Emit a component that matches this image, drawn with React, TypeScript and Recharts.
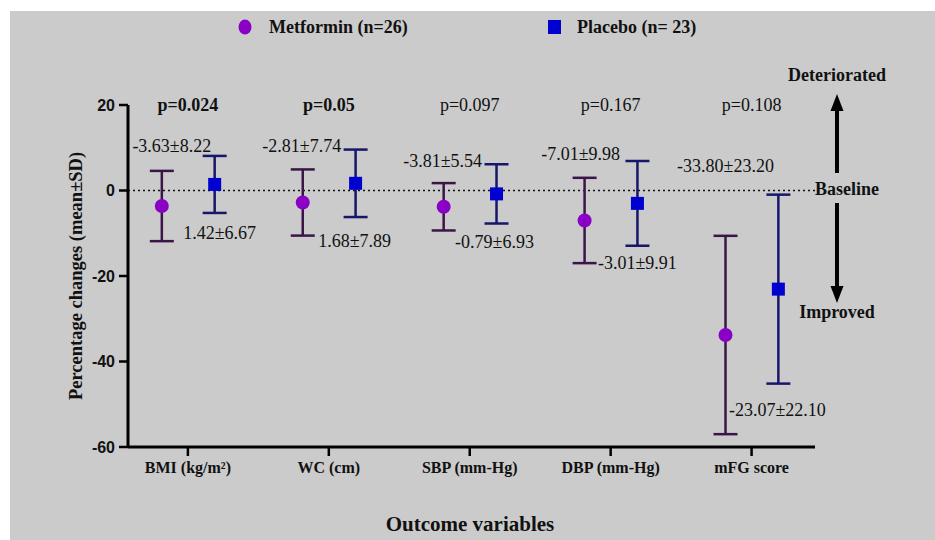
import React from "react";
import {
  ScatterChart,
  Scatter,
  XAxis,
  YAxis,
  ErrorBar,
  ReferenceLine,
} from "recharts";

const categories = ["BMI (kg/m²)", "WC (cm)", "SBP (mm-Hg)", "DBP (mm-Hg)", "mFG score"];
const metforminMean = [-3.63, -2.81, -3.81, -7.01, -33.8];
const metforminSd = [8.22, 7.74, 5.54, 9.98, 23.2];
const placeboMean = [1.42, 1.68, -0.79, -3.01, -23.07];
const placeboSd = [6.67, 7.89, 6.93, 9.91, 22.1];
const pValues = ["p=0.024", "p=0.05", "p=0.097", "p=0.167", "p=0.108"];
const pBold = [true, true, false, false, false];
const yTicks = [-60, -40, -20, 0, 20];

const SERIF = "'Liberation Serif', 'Times New Roman', serif";
const SANS = "'Liberation Sans', Arial, sans-serif";
const MET_FILL = "#8a00c4";
const MET_BAR = "#3a1648";
const PLA_FILL = "#0000d0";
const PLA_BAR = "#16166a";

// pixel offsets of the "mean±SD" texts from each marker (layout only)
const metLabelShift = [[10, -60], [-1, -57], [-1, -46], [-4, -66], [0, -169]];
const plaLabelShift = [[5, 49], [-1, 58], [-2, 48], [0, 60], [-1, 121]];

const metData = metforminMean.map((m, i) => ({ x: i + 1 - 0.185, y: m, sd: metforminSd[i], idx: i }));
const plaData = placeboMean.map((m, i) => ({ x: i + 1 + 0.19, y: m, sd: placeboSd[i], idx: i }));
const pData = pValues.map((p, i) => ({ x: i + 1, y: 20, idx: i }));

const fmt = (v: number) => v.toFixed(2);

function MetShape(props: any) {
  const { cx, cy, payload } = props;
  const [dx, dy] = metLabelShift[payload.idx];
  return (
    <g>
      <circle cx={cx} cy={cy} r={7} fill={MET_FILL} />
      <text x={cx + dx} y={cy + dy} textAnchor="middle" dominantBaseline="central"
        fontFamily={SERIF} fontSize={18} fill="#111">
        {`${fmt(payload.y)}±${fmt(payload.sd)}`}
      </text>
    </g>
  );
}

function PlaShape(props: any) {
  const { cx, cy, payload } = props;
  const [dx, dy] = plaLabelShift[payload.idx];
  return (
    <g>
      <rect x={cx - 6.5} y={cy - 6.5} width={13} height={13} fill={PLA_FILL} />
      <text x={cx + dx} y={cy + dy} textAnchor="middle" dominantBaseline="central"
        fontFamily={SERIF} fontSize={18} fill="#111">
        {`${fmt(payload.y)}±${fmt(payload.sd)}`}
      </text>
    </g>
  );
}

function PShape(props: any) {
  const { cx, cy, payload } = props;
  return (
    <text x={cx} y={cy} textAnchor="middle" dominantBaseline="central"
      fontFamily={SERIF} fontSize={18} fontWeight={pBold[payload.idx] ? "bold" : "normal"} fill="#111">
      {pValues[payload.idx]}
    </text>
  );
}

function Legend() {
  return (
    <svg width={935} height={540} style={{ position: "absolute", left: 0, top: 0, pointerEvents: "none" }}>
      <ellipse cx={245} cy={27} rx={6.5} ry={7.5} fill={MET_FILL} />
      <text x={269} y={27} dominantBaseline="central" fontFamily={SERIF} fontSize={18} fontWeight="bold" fill="#111">
        Metformin (n=26)
      </text>
      <rect x={548} y={20} width={13} height={14} fill={PLA_FILL} />
      <text x={577} y={27} dominantBaseline="central" fontFamily={SERIF} fontSize={18} fontWeight="bold" fill="#111">
        Placebo (n= 23)
      </text>

      <text x={837} y={75} textAnchor="middle" dominantBaseline="central" fontFamily={SERIF} fontSize={18} fontWeight="bold" fill="#111">
        Deteriorated
      </text>
      <line x1={837} y1={173} x2={837} y2={106} stroke="#000" strokeWidth={4} />
      <polygon points="837,94 830.5,111 843.5,111" fill="#000" />
      <text x={847} y={189} textAnchor="middle" dominantBaseline="central" fontFamily={SERIF} fontSize={18} fontWeight="bold" fill="#111">
        Baseline
      </text>
      <line x1={837} y1={203} x2={837} y2={290} stroke="#000" strokeWidth={4} />
      <polygon points="837,303 830.5,286 843.5,286" fill="#000" />
      <text x={837} y={312} textAnchor="middle" dominantBaseline="central" fontFamily={SERIF} fontSize={18} fontWeight="bold" fill="#111">
        Improved
      </text>

      <text x={470} y={524} textAnchor="middle" dominantBaseline="central" fontFamily={SERIF} fontSize={21} fontWeight="bold" fill="#111">
        Outcome variables
      </text>
      <text x={0} y={0} transform="translate(76,276) rotate(-90)" textAnchor="middle" dominantBaseline="central"
        fontFamily={SERIF} fontSize={18.5} fontWeight="bold" fill="#111">
        Percentage changes (mean±SD)
      </text>
    </svg>
  );
}

export default function App() {
  return (
    <div style={{ position: "absolute", left: 0, top: 0, width: 935, height: 540, background: "#fff" }}>
      <div style={{ position: "absolute", left: 10, top: 11, right: 0, bottom: 0, background: "#cbcbcb" }} />
      <div style={{ position: "absolute", left: 0, top: 0 }}>
        <ScatterChart width={935} height={540} margin={{ top: 105, right: 120, bottom: 63, left: 68 }}>
          <XAxis
            dataKey="x"
            type="number"
            domain={[0.575, 5.45]}
            ticks={[1, 2, 3, 4, 5]}
            tickFormatter={(v: number) => categories[Math.round(v) - 1]}
            height={30}
            axisLine={{ stroke: "#000", strokeWidth: 3 }}
            tickLine={{ stroke: "#000", strokeWidth: 2.5 }}
            tickSize={9}
            tickMargin={6}
            tick={{ fontFamily: SERIF, fontSize: 16, fontWeight: "bold", fill: "#111" }}
          />
          <YAxis
            dataKey="y"
            type="number"
            domain={[-60, 20]}
            ticks={yTicks}
            width={60}
            axisLine={{ stroke: "#000", strokeWidth: 3 }}
            tickLine={{ stroke: "#000", strokeWidth: 2.5 }}
            tickSize={9}
            tickMargin={4}
            tick={{ fontFamily: SANS, fontSize: 16, fontWeight: "bold", fill: "#111" }}
          />
          <ReferenceLine y={0} stroke="#111" strokeWidth={1.6} strokeDasharray="2 3" />
          <Scatter data={metData} shape={MetShape} isAnimationActive={false}>
            <ErrorBar dataKey="sd" direction="y" width={12} stroke={MET_BAR} strokeWidth={2.5} />
          </Scatter>
          <Scatter data={plaData} shape={PlaShape} isAnimationActive={false}>
            <ErrorBar dataKey="sd" direction="y" width={12} stroke={PLA_BAR} strokeWidth={2.5} />
          </Scatter>
          <Scatter data={pData} shape={PShape} isAnimationActive={false} />
        </ScatterChart>
      </div>
      <Legend />
    </div>
  );
}
